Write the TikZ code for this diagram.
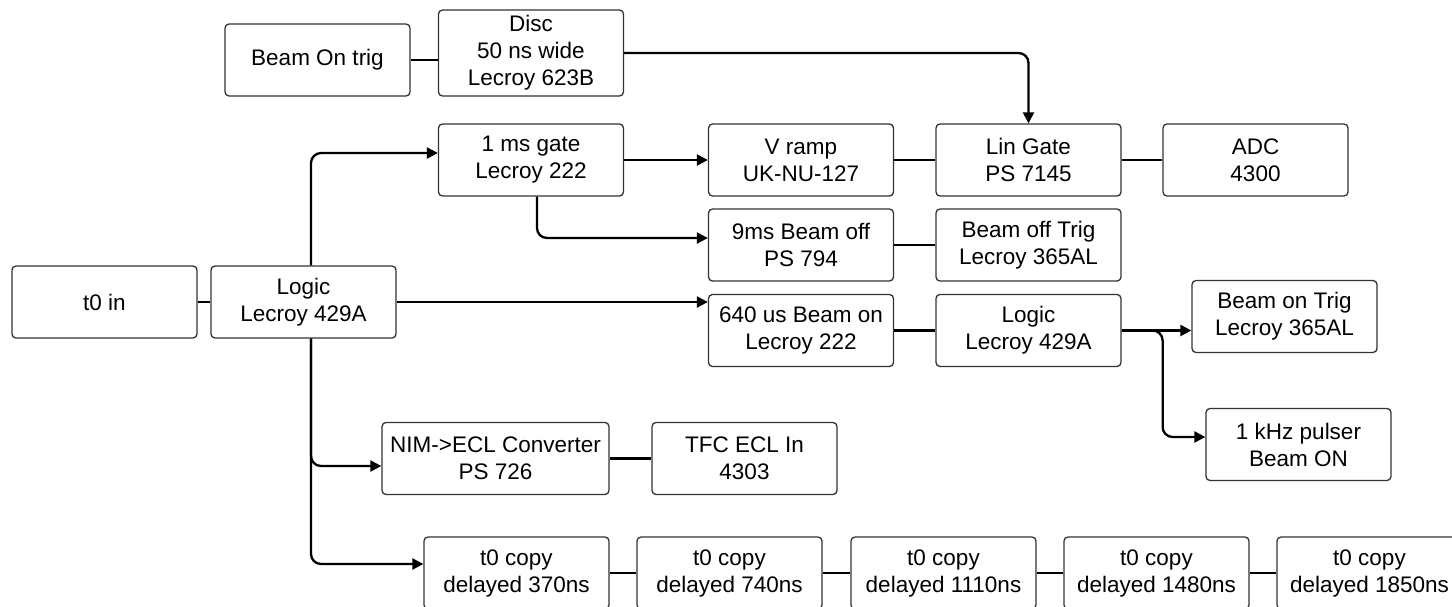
\documentclass[tikz,border=0pt]{standalone}
\usepackage{fontspec}
\setmainfont{Liberation Sans}
\usetikzlibrary{arrows.meta,calc}
\definecolor{boxc}{HTML}{333333}
\begin{document}
\begin{tikzpicture}[x=1pt,y=-1pt,
  box/.style={draw=boxc, line width=1.3pt, rounded corners=4pt, fill=white,
    minimum width=185pt, minimum height=72pt, align=center, inner sep=0pt,
    font=\fontsize{22.5}{27}\selectfont},
  conn/.style={line width=2.3pt, rounded corners=10pt},
  arr/.style={conn, -{Triangle[length=11pt,width=11pt]}}]
\clip (0,0) rectangle (1452,606);
\fill[white] (0,0) rectangle (1452,606);

\node[box] (bot) at (317.5,60) {Beam On trig};
\node[box, minimum height=86pt] (disc) at (531,53) {Disc\\50 ns wide\\Lecroy 623B};
\node[box] (gate) at (531,160) {1 ms gate\\Lecroy 222};
\node[box] (vramp) at (801,160) {V ramp\\UK-NU-127};
\node[box] (lin) at (1028.5,160) {Lin Gate\\PS 7145};
\node[box] (adc) at (1255.5,160) {ADC\\4300};
\node[box] (off9) at (801,245) {9ms Beam off\\PS 794};
\node[box] (offtrig) at (1028.5,245) {Beam off Trig\\Lecroy 365AL};
\node[box] (t0in) at (104.5,302) {t0 in};
\node[box] (logic) at (303.5,302) {Logic\\Lecroy 429A};
\node[box] (b640) at (801,330.5) {640 us Beam on\\Lecroy 222};
\node[box] (logic2) at (1028.5,330.5) {Logic\\Lecroy 429A};
\node[box] (bontrig) at (1284.5,316.5) {Beam on Trig\\Lecroy 365AL};
\node[box] (khz) at (1298.5,444.5) {1 kHz pulser\\Beam ON};
\node[box, minimum width=227pt] (nim) at (495.5,458.5) {NIM->ECL Converter\\PS 726};
\node[box] (tfc) at (744.5,458.5) {TFC ECL In\\4303};
\node[box] (c1) at (516.5,573) {t0 copy\\delayed 370ns};
\node[box] (c2) at (729.5,573) {t0 copy\\delayed 740ns};
\node[box] (c3) at (943.5,573) {t0 copy\\delayed 1110ns};
\node[box] (c4) at (1156.5,573) {t0 copy\\delayed 1480ns};
\node[box] (c5) at (1369.5,573) {t0 copy\\delayed 1850ns};

% plain links
\draw[conn] (bot.east) -- (bot.east -| disc.west);
\draw[conn] (t0in.east) -- (logic.west);
\draw[conn] (vramp.east) -- (lin.west);
\draw[conn] (lin.east) -- (adc.west);
\draw[conn] (off9.east) -- (offtrig.west);
\draw[conn] (b640.east) -- (logic2.west);
\draw[conn] (nim.east) -- (tfc.west);
\draw[conn] (c1.east) -- (c2.west);
\draw[conn] (c2.east) -- (c3.west);
\draw[conn] (c3.east) -- (c4.west);
\draw[conn] (c4.east) -- (c5.west);

% arrows
\draw[arr] (disc.east) -| (lin.north);
\draw[arr] ([xshift=7.5pt]logic.north) |- ([yshift=7pt]gate.west);
\draw[arr] ([xshift=7.5pt]logic.south) |- ([yshift=-7.5pt]nim.west);
\draw[arr] ([xshift=7.5pt]logic.south) |- ([yshift=9pt]c1.west);
\draw[arr] (logic.east) -- (logic.east -| b640.west);
\draw[arr] (gate.east) -- (vramp.west);
\draw[arr] ([xshift=6pt]gate.south) |- ([yshift=7pt]off9.west);
\draw[arr] (logic2.east) -- (logic2.east -| bontrig.west);
\draw[arr] (logic2.east) -- ([xshift=41pt]logic2.east) |- ([yshift=7.5pt]khz.west);
\end{tikzpicture}
\end{document}
